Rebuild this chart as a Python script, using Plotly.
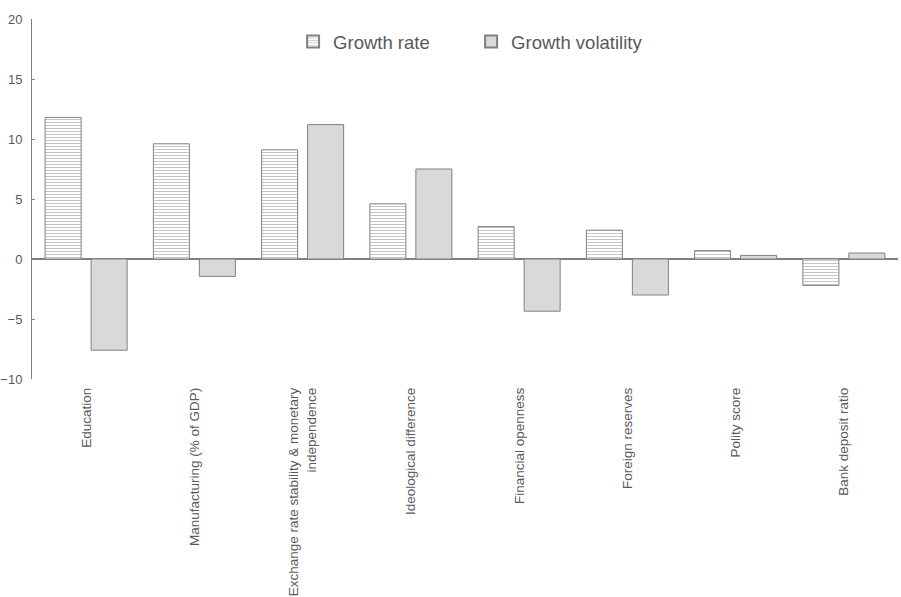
import plotly.graph_objects as go

categories = [
    "Education",
    "Manufacturing (% of GDP)",
    "Exchange rate stability & monetary<br>independence",
    "Ideological difference",
    "Financial openness",
    "Foreign reserves",
    "Polity score",
    "Bank deposit ratio",
]
growth_rate = [11.8, 9.6, 9.1, 4.6, 2.7, 2.4, 0.7, -2.2]
growth_volatility = [-7.6, -1.45, 11.2, 7.5, -4.35, -3.0, 0.3, 0.5]

GRAY = "#808080"
TXT = "#595959"
FONT = "Liberation Sans, Arial, sans-serif"

fig = go.Figure()
fig.add_trace(go.Bar(
    x=categories, y=growth_rate, name="Growth rate",
    marker=dict(color="white", line=dict(color=GRAY, width=1),
                pattern=dict(shape="-", fgcolor=GRAY, bgcolor="white",
                             size=3, solidity=0.3, fillmode="overlay")),
))
fig.add_trace(go.Bar(
    x=categories, y=growth_volatility, name="Growth volatility",
    marker=dict(color="#d9d9d9", line=dict(color=GRAY, width=1)),
))

fig.update_layout(
    width=901, height=597,
    margin=dict(l=32, r=3, t=19, b=218),
    paper_bgcolor="white", plot_bgcolor="white",
    barmode="group", bargap=0.15, bargroupgap=0.217,
    font=dict(family=FONT, color=TXT, size=13.5),
    showlegend=True,
    legend=dict(orientation="h", x=0.3015, xanchor="left", y=0.936, yanchor="middle",
                font=dict(size=18.5, color=TXT), entrywidth=133, entrywidthmode="pixels",
                bgcolor="rgba(0,0,0,0)", itemsizing="constant", traceorder="normal"),
)
fig.update_xaxes(
    type="category", showgrid=False, showline=False, ticks="", automargin=False,
    tickangle=-90, tickfont=dict(size=13.5, color=TXT), zeroline=False,
    ticklabelstandoff=5,
)
fig.update_yaxes(
    range=[-10, 20], dtick=5, showgrid=False, showline=True, linecolor=GRAY, linewidth=1,
    ticks="inside", ticklen=3, tickcolor=GRAY, zeroline=True, zerolinecolor=GRAY,
    zerolinewidth=1.5, tickfont=dict(size=13, color=TXT), ticklabelstandoff=6,
    automargin=False,
)

fig.write_html("out.html", config={"displayModeBar": False},
               post_script="document.body.style.margin='0';")
